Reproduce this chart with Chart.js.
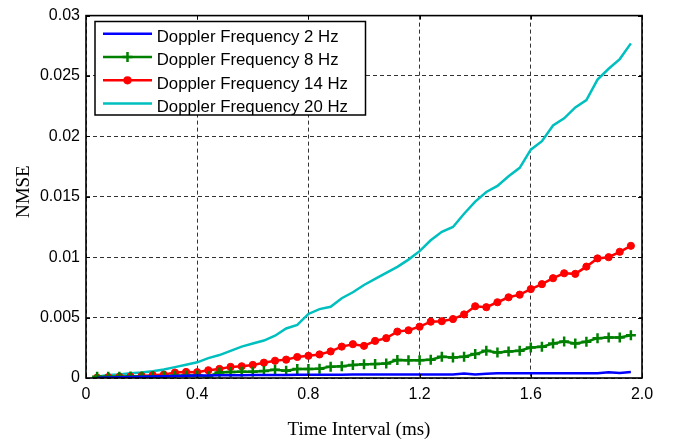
<!DOCTYPE html>
<html><head><meta charset="utf-8">
<script src="https://cdn.jsdelivr.net/npm/chart.js@4/dist/chart.umd.min.js"></script>
<style>html,body{margin:0;padding:0;background:#fff;}canvas{display:block;}</style>
</head><body>
<canvas id="c" width="676" height="445"></canvas>
<script>
const timeMs = [0.04,0.08,0.12,0.16,0.20,0.24,0.28,0.32,0.36,0.40,0.44,0.48,0.52,0.56,0.60,0.64,0.68,0.72,0.76,0.80,0.84,0.88,0.92,0.96,1.00,1.04,1.08,1.12,1.16,1.20,1.24,1.28,1.32,1.36,1.40,1.44,1.48,1.52,1.56,1.60,1.64,1.68,1.72,1.76,1.80,1.84,1.88,1.92,1.96];

const nmse2Hz = [0.00003,0.00005,0.00007,0.00009,0.0001,0.00013,0.00015,0.00017,0.00018,0.0002,
0.00021,0.00022,0.00022,0.00023,0.00024,0.00024,0.00025,0.00025,0.00026,0.00026,
0.00026,0.00027,0.00027,0.00028,0.00028,0.00029,0.00029,0.0003,0.00029,0.00029,
0.0003,0.0003,0.0003,0.00038,0.00028,0.00036,0.0004,0.0004,0.0004,0.0004,
0.0004,0.0004,0.0004,0.0004,0.0004,0.0004,0.00048,0.00042,0.0005];

const nmse8Hz = [0.0001,0.0001,0.0001,0.00012,0.00012,0.00015,0.00015,0.00018,0.0002,0.0002,
0.00015,0.00045,0.0005,0.00052,0.00052,0.00058,0.00068,0.0006,0.00075,0.00075,
0.00076,0.00094,0.00097,0.00108,0.00114,0.00115,0.0012,0.00149,0.00146,0.00146,
0.00152,0.00176,0.0017,0.00176,0.00198,0.00225,0.00212,0.0022,0.00225,0.00252,
0.00258,0.00285,0.00302,0.00285,0.003,0.0033,0.00335,0.00335,0.00354];

const nmse14Hz = [0.00003,0.00007,0.0001,0.00012,0.00017,0.00023,0.00028,0.00045,0.0005,0.00048,
0.00064,0.00075,0.00092,0.00097,0.00108,0.00127,0.00143,0.00152,0.00174,0.00184,
0.00195,0.0022,0.0026,0.0028,0.00266,0.00307,0.0033,0.00384,0.00395,0.00425,
0.00466,0.0047,0.00488,0.00526,0.00594,0.00586,0.00627,0.00668,0.0069,0.00736,
0.00777,0.00826,0.00867,0.00862,0.00922,0.0099,0.01,0.01045,0.01094];

const nmse20Hz = [0.0001,0.00025,0.0003,0.0004,0.00045,0.00055,0.0007,0.0009,0.0011,0.0013,
0.00165,0.0019,0.00225,0.0026,0.00285,0.0031,0.0035,0.0041,0.0044,0.0053,
0.0057,0.0059,0.0066,0.0071,0.0077,0.0082,0.0087,0.0092,0.0098,0.0105,
0.0114,0.0121,0.0125,0.0136,0.0146,0.0154,0.0159,0.0167,0.0174,0.0189,
0.0196,0.0209,0.0215,0.0224,0.023,0.0247,0.0256,0.0264,0.0277];

const seriesLabels = ['Doppler Frequency 2 Hz','Doppler Frequency 8 Hz','Doppler Frequency 14 Hz','Doppler Frequency 20 Hz'];
const xTickLabels = ['0','0.4','0.8','1.2','1.6','2.0'];
const yTickLabels = ['0','0.005','0.01','0.015','0.02','0.025','0.03'];
const xTitle = 'Time Interval (ms)';
const yTitle = 'NMSE';

const toPts = arr => timeMs.map((t, i) => ({x: t, y: arr[i]}));

Chart.defaults.font.family = '"Liberation Sans", Arial, sans-serif';
Chart.defaults.font.size = 16;
Chart.defaults.color = '#000';

const frame = {
  id: 'frame',
  afterDraw(chart) {
    const {ctx, chartArea: a, scales: {x, y}} = chart;
    ctx.save();
    ctx.strokeStyle = '#000';
    ctx.lineWidth = 1;
    ctx.beginPath();
    y.ticks.forEach(t => {
      const p = Math.round(y.getPixelForValue(t.value)) + 0.5;
      ctx.moveTo(a.left, p); ctx.lineTo(a.left + 4, p);
      ctx.moveTo(a.right, p); ctx.lineTo(a.right - 4, p);
    });
    x.ticks.forEach(t => {
      const p = Math.round(x.getPixelForValue(t.value)) + 0.5;
      ctx.moveTo(p, a.bottom); ctx.lineTo(p, a.bottom - 4);
      ctx.moveTo(p, a.top); ctx.lineTo(p, a.top + 4);
    });
    ctx.stroke();
    ctx.lineWidth = 1.6;
    ctx.strokeRect(a.left, a.top, a.right - a.left, a.bottom - a.top);

    // legend
    const lx = 95, ly = 21.5, lw = 270.5, lh = 93.5;
    ctx.fillStyle = '#fff';
    ctx.fillRect(lx, ly, lw, lh);
    ctx.lineWidth = 1.5;
    ctx.strokeStyle = '#000';
    ctx.strokeRect(lx, ly, lw, lh);
    ctx.font = '16.8px "Liberation Sans", Arial, sans-serif';
    ctx.textAlign = 'left';
    ctx.textBaseline = 'alphabetic';
    chart.data.datasets.forEach((ds, i) => {
      const ry = 33.7 + 23.3 * i;
      ctx.strokeStyle = ds.borderColor;
      ctx.lineWidth = ds.borderWidth;
      ctx.beginPath(); ctx.moveTo(103, ry); ctx.lineTo(152, ry); ctx.stroke();
      const cx = 127.5;
      if (ds.pointStyle === 'circle' && ds.pointRadius > 0) {
        ctx.fillStyle = ds.pointBackgroundColor;
        ctx.beginPath(); ctx.arc(cx, ry, ds.pointRadius + 0.5, 0, Math.PI * 2); ctx.fill();
      } else if (ds.pointStyle === 'cross' && ds.pointRadius > 0) {
        ctx.lineWidth = ds.pointBorderWidth;
        ctx.beginPath();
        ctx.moveTo(cx - ds.pointRadius, ry); ctx.lineTo(cx + ds.pointRadius, ry);
        ctx.moveTo(cx, ry - ds.pointRadius); ctx.lineTo(cx, ry + ds.pointRadius);
        ctx.stroke();
      }
      ctx.fillStyle = '#000';
      ctx.fillText(ds.label, 156.7, ry + 8.3);
    });

    ctx.fillStyle = '#000';
    ctx.font = '19px "Liberation Serif", "Times New Roman", serif';
    ctx.textAlign = 'center';
    ctx.textBaseline = 'alphabetic';
    ctx.fillText(xTitle, 359, 435);
    ctx.translate(28.5, 191.7);
    ctx.rotate(-Math.PI / 2);
    ctx.fillText(yTitle, 0, 0);
    ctx.restore();
  }
};

new Chart(document.getElementById('c'), {
  type: 'line',
  data: {
    datasets: [
      {label: seriesLabels[0], data: toPts(nmse2Hz), borderColor: '#0000FF', backgroundColor: '#0000FF', borderWidth: 2.5, pointRadius: 0, pointStyle: 'circle'},
      {label: seriesLabels[1], data: toPts(nmse8Hz), borderColor: '#008000', backgroundColor: '#008000', borderWidth: 2.5, pointStyle: 'cross', pointRadius: 5, pointBorderWidth: 2.5, pointBorderColor: '#008000', pointBackgroundColor: '#008000'},
      {label: seriesLabels[2], data: toPts(nmse14Hz), borderColor: '#FF0000', backgroundColor: '#FF0000', borderWidth: 2.5, pointStyle: 'circle', pointRadius: 3.6, pointBorderWidth: 1, pointBorderColor: '#FF0000', pointBackgroundColor: '#FF0000'},
      {label: seriesLabels[3], data: toPts(nmse20Hz), borderColor: '#00BFBF', backgroundColor: '#00BFBF', borderWidth: 2.5, pointRadius: 0, pointStyle: 'circle'}
    ]
  },
  options: {
    responsive: false,
    animation: false,
    devicePixelRatio: 1,
    layout: {padding: {left: 0, right: 34, top: 13, bottom: 0}},
    plugins: {legend: {display: false}, tooltip: {enabled: false}},
    elements: {line: {tension: 0}},
    scales: {
      x: {
        type: 'linear', min: 0, max: 2,
        afterFit(s) { s.height = 67; },
        ticks: {stepSize: 0.4, autoSkip: false, maxRotation: 0, padding: 7, color: '#000',
          callback: (v, i) => xTickLabels[i]},
        grid: {color: '#333', lineWidth: 1, drawTicks: false},
        border: {display: false, dash: [4, 3]}
      },
      y: {
        min: 0, max: 0.03,
        afterFit(s) { s.width = 86; },
        ticks: {stepSize: 0.005, autoSkip: false, padding: 6, color: '#000',
          callback: (v, i) => yTickLabels[i]},
        grid: {color: '#333', lineWidth: 1, drawTicks: false},
        border: {display: false, dash: [4, 3]}
      }
    }
  },
  plugins: [frame]
});
</script>
</body></html>
